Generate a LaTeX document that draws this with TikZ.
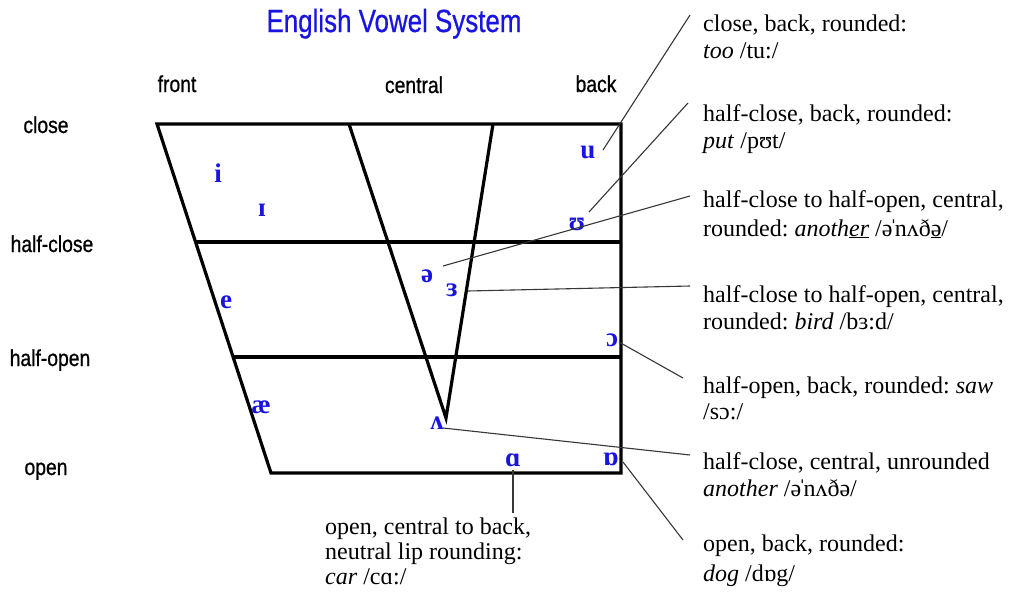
\documentclass[tikz,border=0pt]{standalone}
\usepackage{fontspec}
\setmainfont{Liberation Serif}
\newfontfamily\arialf[FakeBold=0.9]{Liberation Sans}
\newfontfamily\titlef[FakeBold=0.7]{Liberation Sans}
\definecolor{vblue}{RGB}{25,20,225}
\definecolor{lgray}{RGB}{55,55,55}
\newcommand{\stressmk}{\kern-0.12em ˈ\kern-0.12em}
\begin{document}
\frenchspacing
\begin{tikzpicture}[x=1pt,y=-1pt,
 chart/.style={line width=3.2pt, line join=miter},
 conn/.style={draw=lgray, line width=1.1pt},
 vowel/.style={text=vblue, font=\fontsize{27}{27}\selectfont\bfseries, inner sep=0pt},
 axislabel/.style={font=\arialf\fontsize{23}{23}\selectfont, anchor=base, inner sep=0pt, xscale=0.84},
 desc/.style={font=\fontsize{24}{27}\selectfont\frenchspacing, anchor=base west, inner sep=0pt},
 titlestyle/.style={font=\titlef\fontsize{32}{32}\selectfont, text=vblue, anchor=base, inner sep=0pt, xscale=0.81}
]
\useasboundingbox (0,0) rectangle (1012,597);
\fill[white] (0,0) rectangle (1012,597);

% title
\node[titlestyle] (title) at (394,32) {English Vowel System};

% axis labels
\node[axislabel] (front) at (177,92) {front};
\node[axislabel] (central) at (414,93) {central};
\node[axislabel] (back) at (596,92) {back};
\node[axislabel] (close) at (46,133) {close};
\node[axislabel] (halfclose) at (52,252) {half-close};
\node[axislabel] (halfopen) at (50,366) {half-open};
\node[axislabel] (open) at (46,475) {open};

% chart
\coordinate (TL) at (157,124);
\coordinate (TR) at (621,124);
\coordinate (BR) at (621,473);
\coordinate (BL) at (271,473);
\draw[chart] (TL) -- (TR) -- (BR) -- (BL) -- cycle;
\draw[chart] (196,242) -- (621,242);
\draw[chart] (233,357) -- (621,357);
\coordinate (VL) at (349,124);
\coordinate (VB) at (446,418);
\coordinate (VR) at (493,124);
\draw[chart] (VL) -- (VB) -- (VR);

% vowels
\node[vowel] (vi) at (218,173) {i};
\node[vowel] (vI) at (262,210) {ɪ};
\node[vowel] (vu) at (588,152) {u};
\node[vowel] (vU) at (577,224) {ʊ};
\node[vowel] (vschwa) at (427,276) {ə};
\node[vowel] (v3) at (452,290) {ɜ};
\node[vowel] (ve) at (226,302) {e};
\node[vowel] (vO) at (612,340) {ɔ};
\node[vowel] (vae) at (261,407) {æ};
\node[vowel] (vV) at (437,423) {ʌ};
\node[vowel] (vA) at (513,460) {ɑ};
\node[vowel] (vQ) at (611,459) {ɒ};

% descriptions
\node[desc] (d1a) at (703,31) {close, back, rounded:};
\node[desc] (d1b) at (703,58) {\textit{too} /tu:/};
\node[desc] (d2a) at (703,121) {half-close, back, rounded:};
\node[desc] (d2b) at (703,148) {\textit{put} /pʊt/};
\node[desc] (d3a) at (703,207) {half-close to half-open, central,};
\node[desc] (d3b) at (703,236) {rounded: \textit{anoth\underline{er}} /ə\stressmk nʌð\underline{ə}/};
\node[desc] (d4a) at (703,302) {half-close to half-open, central,};
\node[desc] (d4b) at (703,329) {rounded: \textit{bird} /bɜ:d/};
\node[desc] (d5a) at (703,393) {half-open, back, rounded: \textit{saw}};
\node[desc] (d5b) at (703,419) {/sɔ:/};
\node[desc] (d6a) at (703,469) {half-close, central, unrounded};
\node[desc] (d6b) at (703,496) {\textit{another} /ə\stressmk nʌðə/};
\node[desc] (d7a) at (703,551) {open, back, rounded:};
\node[desc] (d7b) at (703,581) {\textit{dog} /dɒg/};
\node[desc] (d8a) at (325,534) {open, central to back,};
\node[desc] (d8b) at (325,559) {neutral lip rounding:};
\node[desc] (d8c) at (325,584) {\textit{car} /cɑ:/};

% connectors
\coordinate (cu1) at (603,150);   \coordinate (cu2) at (690,15);
\coordinate (cU1) at (589,212);   \coordinate (cU2) at (688,103);
\coordinate (cs1) at (443,266);   \coordinate (cs2) at (690,196);
\coordinate (c31) at (468,291);   \coordinate (c32) at (690,286);
\coordinate (cO1) at (619,342);   \coordinate (cO2) at (683,378);
\coordinate (cV1) at (443,428);   \coordinate (cV2) at (690,455);
\coordinate (cQ1) at (623,462);   \coordinate (cQ2) at (683,540);
\coordinate (cA1) at (513,470);   \coordinate (cA2) at (513,513);
\draw[conn] (cu1) -- (cu2);
\draw[conn] (cU1) -- (cU2);
\draw[conn] (cs1) -- (cs2);
\draw[conn] (c31) -- (c32);
\draw[conn] (cO1) -- (cO2);
\draw[conn] (cV1) -- (cV2);
\draw[conn] (cQ1) -- (cQ2);
\draw[conn, line width=1.6pt] (cA1) -- (cA2);
\end{tikzpicture}
\end{document}
